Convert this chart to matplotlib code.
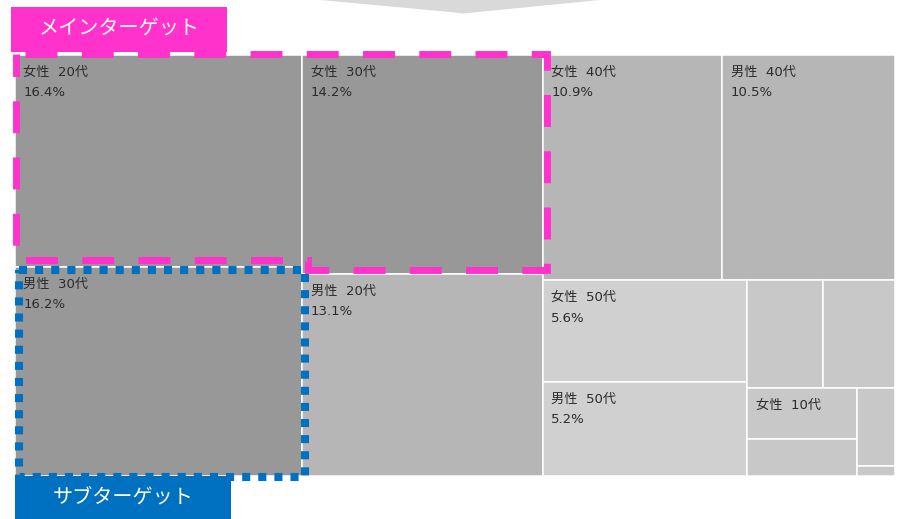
import numpy as np
import matplotlib.pyplot as plt
from matplotlib.patches import Rectangle, Polygon, PathPatch
from matplotlib.path import Path

plt.rcParams['font.family'] = ['DejaVu Sans', 'Noto Sans CJK JP']

# treemap data (share of customers, %)
labels = ['女性  20代', '男性  30代', '女性  30代', '男性  20代', '女性  40代', '男性  40代',
          '女性  50代', '男性  50代', '', '', '女性  10代', '', '', '']
shares = [16.4, 16.2, 14.2, 13.1, 10.9, 10.5, 5.6, 5.2, 2.2, 2.1, 1.5, 1.1, 0.8, 0.1]
colors = ['#989898', '#989898', '#989898', '#b6b6b6', '#b6b6b6', '#b6b6b6',
          '#d0d0d0', '#d0d0d0', '#c8c8c8', '#c8c8c8', '#c8c8c8', '#c8c8c8', '#c8c8c8', '#c8c8c8']

main_label = 'メインターゲット'
sub_label = 'サブターゲット'


def layout(vals, x, y, w, h):
    # strips of two tiles, laid along the shorter side
    rects = []
    i = 0
    while i < len(vals):
        grp = vals[i:i + 2]
        g = sum(grp)
        frac = g / sum(vals[i:])
        last = frac > 0.999
        if (w >= h) != last:
            cw = w * frac
            yy = y
            for v in grp:
                hh = h * v / g
                rects.append((x, yy, cw, hh))
                yy += hh
            x += cw
            w -= cw
        else:
            rh = h * frac
            xx = x
            for v in grp:
                ww = w * v / g
                rects.append((xx, y, ww, rh))
                xx += ww
            y += rh
            h -= rh
        i += 2
    return rects


fig = plt.figure(figsize=(9.03, 5.19), dpi=100)
ax = fig.add_axes([0, 0, 1, 1])
ax.set_xlim(0, 903)
ax.set_ylim(519, 0)
ax.axis('off')

# tip of the arrow from the slide above
ax.add_patch(Polygon([(320, 0), (450, 12), (463, 13.5), (600, 0)], closed=True,
                     facecolor='#d9d9d9', edgecolor='none'))

rects = layout(shares, 15, 55, 880, 421)
for (x, y, w, h), lab, v, c in zip(rects, labels, shares, colors):
    ax.add_patch(Rectangle((x, y), w, h, facecolor=c, edgecolor='white', lw=1.1))
    if lab and w > 90 and h > 40:
        ax.text(x + 8.5, y + 17.5, lab, fontsize=9.5, color='#2b2b2b', va='center', ha='left')
        if h > 60:
            ax.text(x + 8.5, y + 38, f'{v:.1f}%', fontsize=9.5, color='#2b2b2b',
                    va='center', ha='left')

# main target outline (pink dashed)
pink = '#ff33cc'
verts = [(16, 53.5), (547, 53.5), (547, 269.5), (308.5, 269.5), (308.5, 260), (16, 260), (16, 53.5)]
codes = [Path.MOVETO] + [Path.LINETO] * 5 + [Path.CLOSEPOLY]
ax.add_patch(PathPatch(Path(verts, codes), fill=False, edgecolor=pink, lw=5,
                       linestyle=(6.8, (4.6, 3.5)), capstyle='butt', joinstyle='miter'))

# sub target outline (blue dotted)
blue = '#0070c0'
ax.add_patch(Rectangle((19, 269.5), 286, 207, fill=False, edgecolor=blue, lw=5.8,
                       linestyle=(0, (1, 1)), capstyle='butt', joinstyle='miter'))

ax.add_patch(Rectangle((11, 7), 216, 45, facecolor=pink, edgecolor='none'))
ax.text(119, 28.5, main_label, fontsize=14.5, color='white', ha='center', va='center')

ax.add_patch(Rectangle((15, 476), 216, 43, facecolor=blue, edgecolor='none'))
ax.text(123, 497, sub_label, fontsize=14.5, color='white', ha='center', va='center')

fig.savefig('out.png', dpi=100)
